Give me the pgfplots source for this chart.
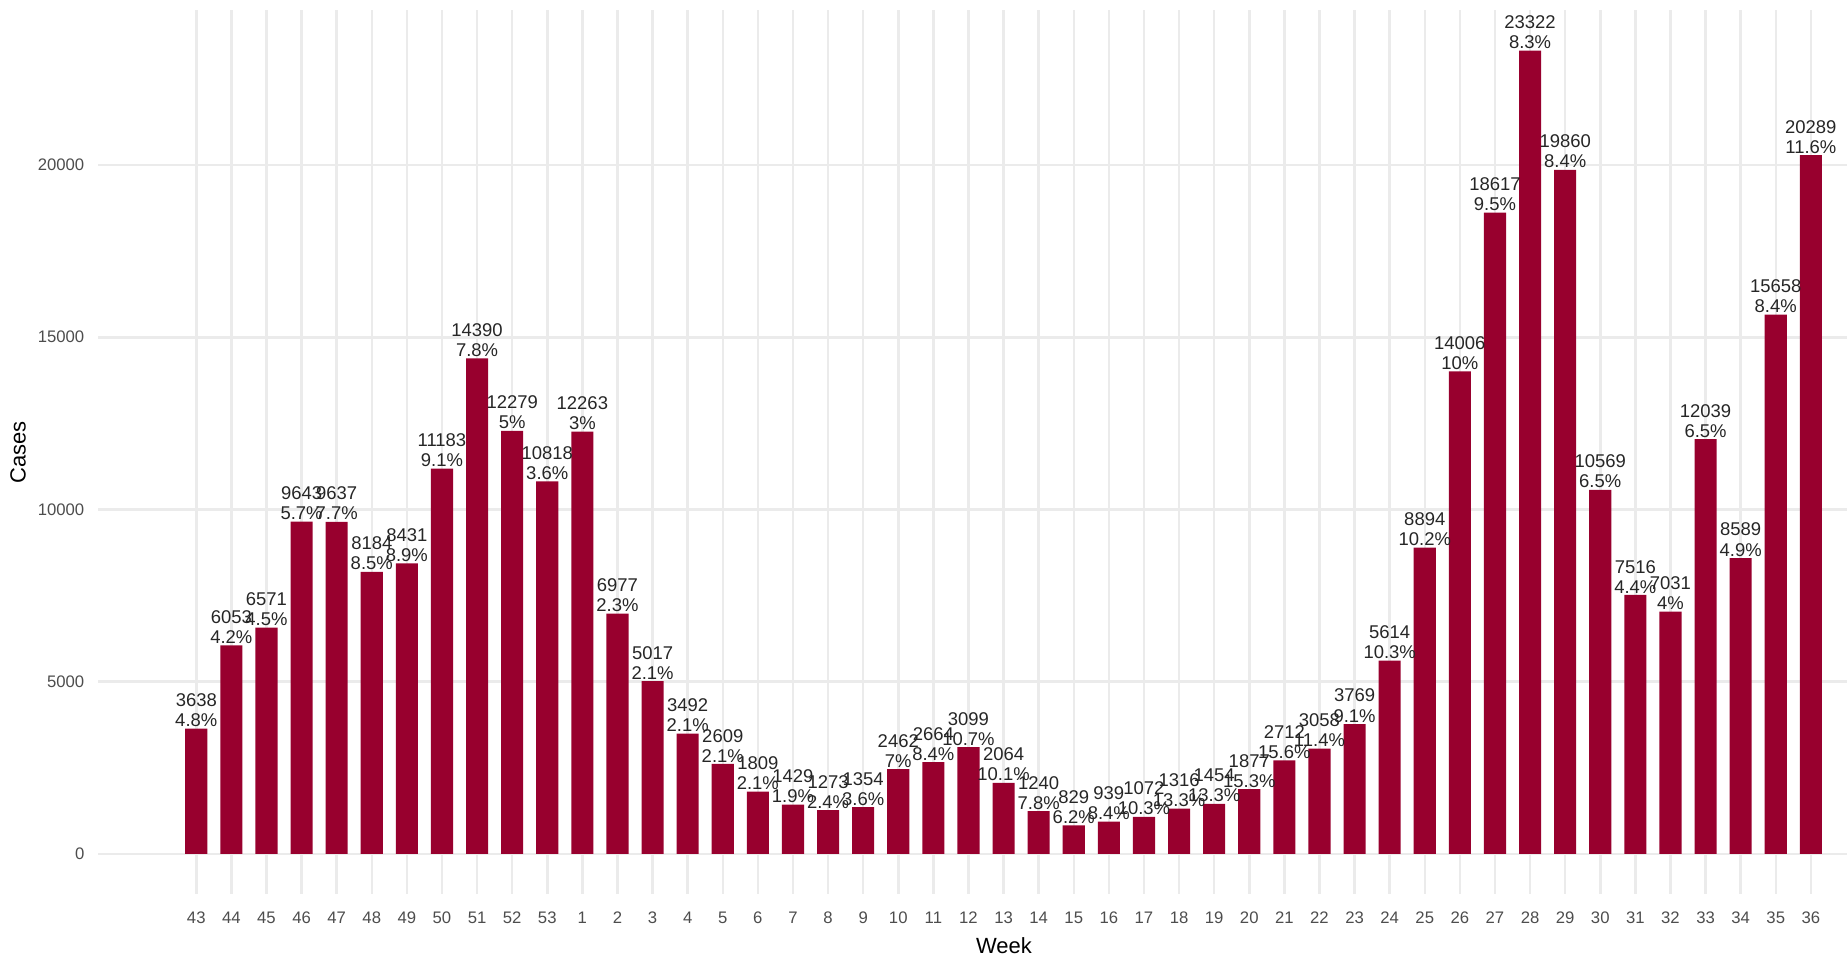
\documentclass[border=0pt]{standalone}
\usepackage{pgfplots}
\pgfplotsset{compat=1.18}
\usepackage{fontspec}
\setmainfont{Liberation Sans}
\setsansfont{Liberation Sans}

\definecolor{barred}{HTML}{98002E}
\definecolor{gridgrey}{HTML}{EBEBEB}
\definecolor{tickgrey}{HTML}{4D4D4D}

\begin{document}
\begin{tikzpicture}
    % 1 px of the reference = 0.2 mm
    \begin{axis}[
        at={(0,0)}, anchor=south west,
        scale only axis,
        width=349.8mm, height=176.7mm,
        xmin=-2.8, xmax=47.03,
        ymin=-1166, ymax=24488,
        clip=false,
        axis line style={draw=none},
        tick style={draw=none},
        major tick length=0pt,
        xmajorgrids, ymajorgrids,
        grid style={color=gridgrey, line width=0.5mm},
        xtick={0,...,46},
        xticklabels={43,44,45,46,47,48,49,50,51,52,53,1,2,3,4,5,6,7,8,9,10,11,12,13,14,15,16,17,18,19,20,21,22,23,24,25,26,27,28,29,30,31,32,33,34,35,36},
        ytick={0,5000,10000,15000,20000},
        scaled y ticks=false,
        yticklabel={\pgfmathprintnumber[fixed,1000 sep={}]{\tick}},
        /pgf/number format/assume math mode=true,
        ticklabel style={font=\fontsize{9.5}{11}\selectfont, text=tickgrey},
        xticklabel style={yshift=-2.3mm},
        yticklabel style={xshift=-1.5mm},
        xlabel={Week},
        ylabel={Cases},
        xlabel style={at={(axis description cs:0.518,-0.0589)}, anchor=center, font=\fontsize{12.5}{14}\selectfont},
        ylabel style={at={(axis description cs:-0.0457,0.5)}, anchor=center, rotate=0, font=\fontsize{12.5}{14}\selectfont},
        ybar, bar width=0.63, bar shift=0pt,
        point meta=explicit symbolic,
        nodes near coords,
        every node near coord/.append style={anchor=south, align=center, inner sep=0.3mm,
            font=\fontsize{10.5}{11.4}\selectfont, text=black!85},
    ]
    \addplot[fill=barred, draw=none] coordinates {
        (0,3638) [3638\\4.8\%]
        (1,6053) [6053\\4.2\%]
        (2,6571) [6571\\4.5\%]
        (3,9643) [9643\\5.7\%]
        (4,9637) [9637\\7.7\%]
        (5,8184) [8184\\8.5\%]
        (6,8431) [8431\\8.9\%]
        (7,11183) [11183\\9.1\%]
        (8,14390) [14390\\7.8\%]
        (9,12279) [12279\\5\%]
        (10,10818) [10818\\3.6\%]
        (11,12263) [12263\\3\%]
        (12,6977) [6977\\2.3\%]
        (13,5017) [5017\\2.1\%]
        (14,3492) [3492\\2.1\%]
        (15,2609) [2609\\2.1\%]
        (16,1809) [1809\\2.1\%]
        (17,1429) [1429\\1.9\%]
        (18,1273) [1273\\2.4\%]
        (19,1354) [1354\\3.6\%]
        (20,2462) [2462\\7\%]
        (21,2664) [2664\\8.4\%]
        (22,3099) [3099\\10.7\%]
        (23,2064) [2064\\10.1\%]
        (24,1240) [1240\\7.8\%]
        (25,829) [829\\6.2\%]
        (26,939) [939\\8.4\%]
        (27,1072) [1072\\10.3\%]
        (28,1316) [1316\\13.3\%]
        (29,1454) [1454\\13.3\%]
        (30,1877) [1877\\15.3\%]
        (31,2712) [2712\\15.6\%]
        (32,3058) [3058\\11.4\%]
        (33,3769) [3769\\9.1\%]
        (34,5614) [5614\\10.3\%]
        (35,8894) [8894\\10.2\%]
        (36,14006) [14006\\10\%]
        (37,18617) [18617\\9.5\%]
        (38,23322) [23322\\8.3\%]
        (39,19860) [19860\\8.4\%]
        (40,10569) [10569\\6.5\%]
        (41,7516) [7516\\4.4\%]
        (42,7031) [7031\\4\%]
        (43,12039) [12039\\6.5\%]
        (44,8589) [8589\\4.9\%]
        (45,15658) [15658\\8.4\%]
        (46,20289) [20289\\11.6\%]
    };
    \end{axis}
    \pgfresetboundingbox
    \useasboundingbox (-19.6mm,-12.8mm) rectangle (349.8mm,178.8mm);
\end{tikzpicture}
\end{document}
